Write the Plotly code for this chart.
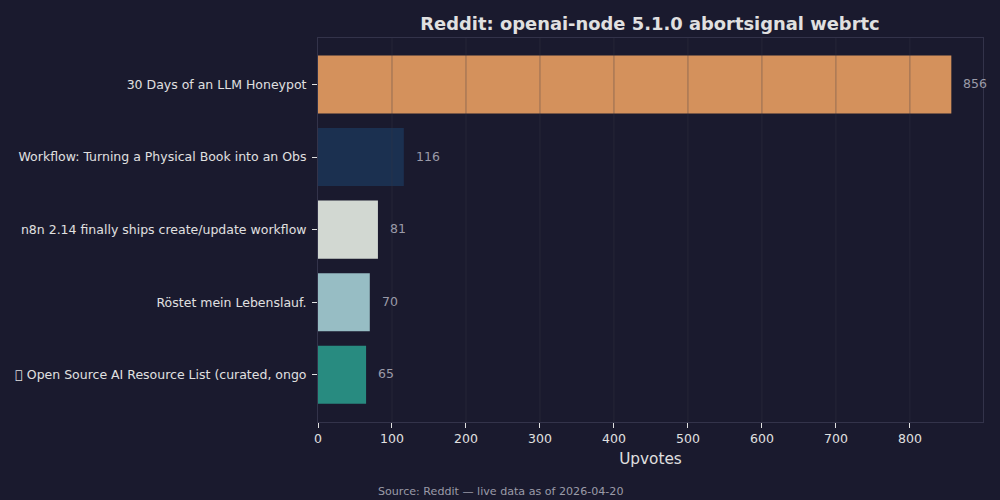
import plotly.graph_objects as go

labels = ["30 Days of an LLM Honeypot",
          "Workflow: Turning a Physical Book into an Obs",
          "n8n 2.14 finally ships create/update workflow",
          "Röstet mein Lebenslauf.",
          "\ue000 Open Source AI Resource List (curated, ongo"]
values = [856, 116, 81, 70, 65]
bar_colors = ["#D4915C", "#1B3050", "#D2D8D2", "#97BDC4", "#288B80"]
x_ticks = [0, 100, 200, 300, 400, 500, 600, 700, 800]
x_max = 898.8

BG = "#1A1A2E"
FONT = "DejaVu Sans"
L, R, T, B = 317.5, 17, 37.5, 78

fig = go.Figure(go.Bar(
    y=labels, x=values, orientation="h", width=0.8,
    marker=dict(color=bar_colors, line=dict(width=0)),
    hoverinfo="skip",
))

annotations = [dict(x=v, y=c, xref="x", yref="y", text=str(v), showarrow=False,
                    xanchor="left", yanchor="middle", xshift=10, yshift=1,
                    font=dict(family=FONT, size=12.5, color="#9A9AA8"))
               for c, v in zip(labels, values)]
annotations.append(dict(text="Source: Reddit — live data as of 2026-04-20", xref="paper", yref="paper",
                        x=(500 - L) / (1000 - L - R), y=-(491.5 - (500 - B)) / (500 - T - B),
                        xanchor="center", yanchor="middle", showarrow=False,
                        font=dict(family=FONT, size=11.1, color="#9A9AA8")))

for t in x_ticks[1:]:
    fig.add_shape(type="line", xref="x", yref="paper", x0=t, x1=t, y0=0, y1=1,
                  line=dict(color="rgba(55,55,70,0.5)", width=0.8), layer="above")

axis_common = dict(ticks="outside", ticklen=5, tickwidth=1, tickcolor="#E0E0E0",
                   showgrid=False, zeroline=False, showline=True, linecolor="#33334A",
                   linewidth=1, mirror=True, automargin=False)

fig.update_layout(
    width=1000, height=500, autosize=False,
    paper_bgcolor=BG, plot_bgcolor=BG,
    margin=dict(l=L, r=R, t=T, b=B, pad=0),
    showlegend=False, bargap=0.2,
    font=dict(family=FONT, color="#E0E0E0"),
    title=dict(text="<b>Reddit: openai-node 5.1.0 abortsignal webrtc</b>",
               x=0.65, xanchor="center", y=0.953, yanchor="middle",
               font=dict(family=FONT, size=17.9, color="#E0E0E0")),
    xaxis=dict(range=[0, x_max], tickvals=x_ticks,
               tickfont=dict(family=FONT, size=12.5, color="#E0E0E0"),
               title=dict(text="Upvotes", font=dict(family=FONT, size=15.3, color="#E0E0E0"), standoff=8),
               **axis_common),
    yaxis=dict(autorange=False, range=[4.65, -0.64], categoryorder="array", categoryarray=labels,
               tickfont=dict(family=FONT, size=12.5, color="#E0E0E0"), ticklabelstandoff=3,
               **axis_common),
    annotations=annotations,
)

fig.write_html("out.html", post_script="document.body.style.margin='0';",
               config={"displayModeBar": False})
